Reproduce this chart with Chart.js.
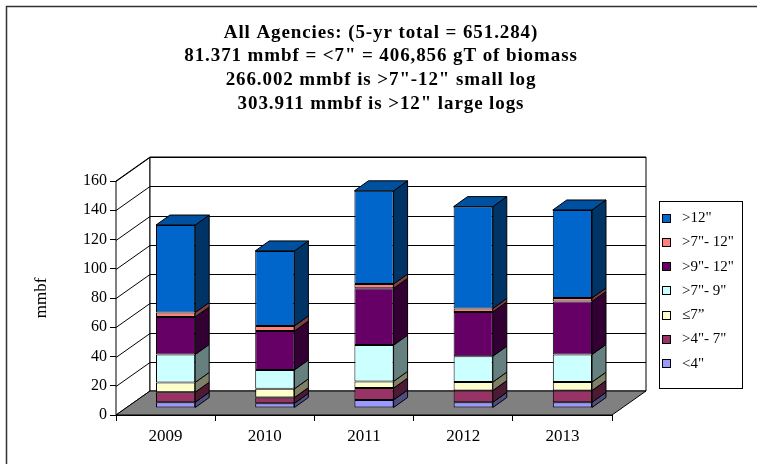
<!DOCTYPE html>
<html>
<head>
<meta charset="utf-8">
<script src="https://cdn.jsdelivr.net/npm/chart.js@4.4.1/dist/chart.umd.min.js"></script>
<style>
  html, body { margin: 0; padding: 0; background: #fff; }
</style>
</head>
<body>
<canvas id="chart" width="757" height="464"></canvas>
<script>
// data (mmbf)
const years = ['2009', '2010', '2011', '2012', '2013'];
const lt4     = [3.9, 3.2, 5.5, 3.9, 3.9];
const gt4to7  = [6.9, 3.9, 8.1, 8.0, 8.0];
const le7     = [6.7, 6.0, 4.6, 5.8, 5.8];
const gt7to9  = [19.1, 12.9, 24.8, 17.7, 18.9];
const gt9to12 = [25.7, 26.6, 38.8, 30.3, 36.3];
const gt7to12 = [3.0, 3.5, 3.0, 2.3, 2.3];
const gt12    = [59.8, 51.3, 63.7, 69.7, 60.2];

const seriesLabels = ['<4"', '>4"- 7"', '\u22647\u201d', '>7"- 9"', '>9"- 12"', '>7"- 12"', '>12"'];
const seriesValues = [lt4, gt4to7, le7, gt7to9, gt9to12, gt7to12, gt12];
const frontColors = ['#9999FF', '#993366', '#FFFFCC', '#CCFFFF', '#660066', '#FF8080', '#0066CC'];
const sideColors  = ['#4D4D80', '#4D1A33', '#808066', '#668080', '#330033', '#804040', '#003366'];
const topColor = '#0050A0';

const titleLines = [
  'All Agencies: (5-yr total = 651.284)',
  '81.371 mmbf = <7" = 406,856 gT of biomass',
  '266.002 mmbf is >7"-12" small log',
  '303.911 mmbf is >12" large logs'
];

const yMax = 160;
const yStep = 20;

// 3D look
const WALL_DX = 34, WALL_DY = -24;  // floor depth
const BAR_DX = 10, BAR_DY = -7;     // bars pushed back into the floor
const SIDE_DX = 14, SIDE_DY = -10;  // bar depth

const SERIF = '"Liberation Serif", "Times New Roman", serif';

const threeD = {
  id: 'threeD',
  beforeDatasetsDraw(chart) {
    const ctx = chart.ctx;
    const xs = chart.scales.x, ys = chart.scales.y;
    const L = xs.left, R = xs.right;
    const y0 = ys.getPixelForValue(0), yT = ys.getPixelForValue(yMax);
    ctx.save();
    ctx.lineWidth = 1;
    ctx.strokeStyle = '#000';
    // left wall
    ctx.beginPath();
    ctx.moveTo(L, y0); ctx.lineTo(L + WALL_DX, y0 + WALL_DY);
    ctx.lineTo(L + WALL_DX, yT + WALL_DY); ctx.lineTo(L, yT);
    ctx.closePath();
    ctx.fillStyle = '#fff'; ctx.fill(); ctx.stroke();
    // back wall
    ctx.beginPath();
    ctx.rect(L + WALL_DX, yT + WALL_DY, R - L, y0 - yT);
    ctx.fill(); ctx.stroke();
    // grid lines on both walls
    ys.ticks.forEach(t => {
      const py = Math.round(ys.getPixelForValue(t.value)) + 0.5;
      ctx.beginPath();
      ctx.moveTo(L, py);
      ctx.lineTo(L + WALL_DX, py + WALL_DY);
      ctx.lineTo(R + WALL_DX, py + WALL_DY);
      ctx.stroke();
    });
    // floor
    ctx.beginPath();
    ctx.moveTo(L, y0); ctx.lineTo(R, y0);
    ctx.lineTo(R + WALL_DX, y0 + WALL_DY); ctx.lineTo(L + WALL_DX, y0 + WALL_DY);
    ctx.closePath();
    ctx.fillStyle = '#808080'; ctx.fill(); ctx.stroke();
    ctx.restore();

    ctx.save();
    ctx.translate(BAR_DX, BAR_DY);
  },
  afterDatasetsDraw(chart) {
    const ctx = chart.ctx;
    const n = chart.data.datasets.length;
    ctx.lineWidth = 1;
    ctx.strokeStyle = '#000';
    for (let i = 0; i < n; i++) {
      const meta = chart.getDatasetMeta(i);
      meta.data.forEach(bar => {
        const { x, y, base, width } = bar.getProps(['x', 'y', 'base', 'width'], true);
        const r = x + width / 2, l = x - width / 2;
        ctx.beginPath();
        ctx.moveTo(r, y); ctx.lineTo(r + SIDE_DX, y + SIDE_DY);
        ctx.lineTo(r + SIDE_DX, base + SIDE_DY); ctx.lineTo(r, base);
        ctx.closePath();
        ctx.fillStyle = sideColors[i]; ctx.fill(); ctx.stroke();
        if (i === n - 1) {
          ctx.beginPath();
          ctx.moveTo(l, y); ctx.lineTo(r, y);
          ctx.lineTo(r + SIDE_DX, y + SIDE_DY); ctx.lineTo(l + SIDE_DX, y + SIDE_DY);
          ctx.closePath();
          ctx.fillStyle = topColor; ctx.fill(); ctx.stroke();
        }
      });
    }
    ctx.restore();
  },
  afterDraw(chart) {
    const ctx = chart.ctx;
    ctx.save();
    // frame edges
    ctx.strokeStyle = '#333';
    ctx.lineWidth = 1.5;
    ctx.beginPath();
    ctx.moveTo(6.5, 464); ctx.lineTo(6.5, 6.5); ctx.lineTo(757, 6.5);
    ctx.stroke();

    // title
    ctx.fillStyle = '#000';
    ctx.font = 'bold 19px ' + SERIF;
    ctx.letterSpacing = '0.9px';
    ctx.textAlign = 'center';
    ctx.textBaseline = 'alphabetic';
    titleLines.forEach((s, i) => ctx.fillText(s, 381, 37.5 + i * 23.8));
    ctx.letterSpacing = '0px';

    // legend
    ctx.lineWidth = 1;
    ctx.strokeStyle = '#000';
    ctx.strokeRect(659.5, 201.5, 83, 187);
    ctx.font = '15px ' + SERIF;
    ctx.textAlign = 'left';
    ctx.textBaseline = 'middle';
    const items = chart.data.datasets.slice().reverse();
    items.forEach((ds, i) => {
      const cy = 218 + i * 24.3;
      ctx.fillStyle = ds.backgroundColor;
      ctx.fillRect(662.5, Math.round(cy - 4.5) + 0.5, 8, 8);
      ctx.strokeRect(662.5, Math.round(cy - 4.5) + 0.5, 8, 8);
      ctx.fillStyle = '#000';
      ctx.fillText(ds.label, 682, cy);
    });
    ctx.restore();
  }
};

new Chart(document.getElementById('chart'), {
  type: 'bar',
  data: {
    labels: years,
    datasets: seriesValues.map((vals, i) => ({
      label: seriesLabels[i],
      data: vals,
      backgroundColor: frontColors[i],
      borderColor: '#000',
      borderWidth: 1,
      borderSkipped: false,
      categoryPercentage: 1,
      barPercentage: 0.395,
      clip: false
    }))
  },
  options: {
    responsive: false,
    devicePixelRatio: 1,
    animation: false,
    layout: { padding: { left: 27, top: 181, right: 145, bottom: 0 } },
    plugins: {
      legend: { display: false },
      title: { display: false },
      tooltip: { enabled: false }
    },
    scales: {
      x: {
        stacked: true,
        grid: { drawOnChartArea: false, offset: true, tickLength: 6, color: '#000' },
        border: { color: '#000', width: 1 },
        ticks: { color: '#000', padding: 5, font: { family: SERIF, size: 17 } },
        afterFit: s => { s.height = 49; }
      },
      y: {
        stacked: true,
        min: 0,
        max: yMax,
        grid: { drawOnChartArea: false, tickLength: 6, color: '#000' },
        border: { color: '#000', width: 1 },
        ticks: { stepSize: yStep, color: '#000', padding: 3, font: { family: SERIF, size: 16 } },
        title: { display: true, text: 'mmbf', color: '#000', font: { family: SERIF, size: 17 } },
        afterFit: s => { s.width = 89; }
      }
    }
  },
  plugins: [threeD]
});
</script>
</body>
</html>
